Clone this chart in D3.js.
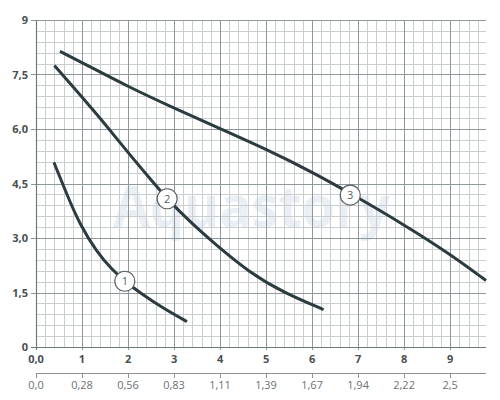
<!DOCTYPE html>
<html><head><meta charset="utf-8">
<script src="https://cdn.jsdelivr.net/npm/d3@7"></script>
<style>
html,body{margin:0;padding:0;background:#fff;}
svg{display:block;font-family:"Open Sans",sans-serif;}
</style></head>
<body><svg id="c" width="500" height="400"></svg>
<script>
// ---- data ----
const xTicks = [0,1,2,3,4,5,6,7,8,9];
const xTickLabels = ["0,0","1","2","3","4","5","6","7","8","9"];
const x2TickLabels = ["0,0","0,28","0,56","0,83","1,11","1,39","1,67","1,94","2,22","2,5"];
const yTicks = [0,1.5,3,4.5,6,7.5,9];
const yTickLabels = ["0","1,5","3,0","4,5","6,0","7,5","9"];

const curve1X = [0.39,0.67,0.96,1.32,1.65,1.93,2.26,2.77,3.28];
const curve1Y = [5.08,4.20,3.35,2.62,2.13,1.81,1.49,1.06,0.70];
const curve2X = [0.40,1.00,1.50,2.00,2.50,2.85,3.30,3.90,4.65,5.38,6.25];
const curve2Y = [7.75,6.88,6.14,5.35,4.60,4.08,3.50,2.82,2.04,1.50,1.03];
const curve3X = [0.52,1.04,2.01,2.99,4.00,5.01,6.00,7.04,7.98,9.00,9.78];
const curve3Y = [8.14,7.80,7.16,6.58,6.01,5.44,4.82,4.08,3.38,2.56,1.83];
const curveNames = ["1","2","3"];
const labelX = [1.93,2.85,6.83];
const labelY = [1.81,4.08,4.18];
const watermark = "Aquastory";

// ---- layout ----
const svg = d3.select("#c");
const x = d3.scaleLinear().domain([0,9.78]).range([36,486]);
const y = d3.scaleLinear().domain([0,9]).range([347,20]);

// watermark
svg.append("text").attr("x",113).attr("y",227)
  .attr("textLength",277).attr("lengthAdjust","spacingAndGlyphs")
  .attr("font-size",58).attr("font-weight","bold").attr("fill","#e9eff5")
  .text(watermark);

// minor grid
const minorX = d3.range(0,9.79,0.2).filter(v=>Math.abs(v-Math.round(v))>1e-6);
const minorY = d3.range(0,9.01,0.3).filter(v=>Math.abs(v/1.5-Math.round(v/1.5))>1e-6);
const g = svg.append("g");
g.selectAll(".mx").data(minorX).join("line")
  .attr("x1",d=>Math.round(x(d))+0.5).attr("x2",d=>Math.round(x(d))+0.5)
  .attr("y1",y(9)).attr("y2",y(0)).attr("stroke","#c9cecf").attr("stroke-width",1);
g.selectAll(".my").data(minorY).join("line")
  .attr("y1",d=>Math.round(y(d))+0.5).attr("y2",d=>Math.round(y(d))+0.5)
  .attr("x1",x(0)).attr("x2",x(9.78)).attr("stroke","#c9cecf").attr("stroke-width",1);
// major grid
g.selectAll(".Mx").data(xTicks.slice(1)).join("line")
  .attr("x1",d=>Math.round(x(d))+0.5).attr("x2",d=>Math.round(x(d))+0.5)
  .attr("y1",y(9)).attr("y2",y(0)+3).attr("stroke","#8e989b").attr("stroke-width",1);
g.selectAll(".My").data(yTicks.slice(1)).join("line")
  .attr("y1",d=>Math.round(y(d))+0.5).attr("y2",d=>Math.round(y(d))+0.5)
  .attr("x1",x(0)-5).attr("x2",x(9.78)).attr("stroke","#8e989b").attr("stroke-width",1);
// axis lines
g.append("line").attr("x1",x(0)+0.5).attr("x2",x(0)+0.5).attr("y1",y(9)).attr("y2",y(0)+3)
  .attr("stroke","#6f7a7d").attr("stroke-width",1.2);
g.append("line").attr("x1",x(0)-5).attr("x2",x(9.78)).attr("y1",y(0)+0.5).attr("y2",y(0)+0.5)
  .attr("stroke","#6f7a7d").attr("stroke-width",1.2);

// y labels
svg.selectAll(".yl").data(yTicks).join("text")
  .attr("x",28).attr("y",d=>y(d)+4).attr("text-anchor","end")
  .attr("font-size",11).attr("font-weight","bold").attr("fill","#4a4f52")
  .text((d,i)=>yTickLabels[i]);
// x labels
svg.selectAll(".xl").data(xTicks).join("text")
  .attr("x",d=>x(d)).attr("y",363).attr("text-anchor","middle")
  .attr("font-size",11).attr("font-weight","bold").attr("fill","#4a4f52")
  .text((d,i)=>xTickLabels[i]);

// secondary axis
const ax2 = svg.append("g");
ax2.append("line").attr("x1",x(0)).attr("x2",x(9.78)).attr("y1",373.5).attr("y2",373.5)
  .attr("stroke","#8a9193").attr("stroke-width",1.2);
ax2.selectAll(".t2").data(xTicks).join("line")
  .attr("x1",d=>Math.round(x(d))+0.5).attr("x2",d=>Math.round(x(d))+0.5)
  .attr("y1",373).attr("y2",378).attr("stroke","#8a9193");
ax2.selectAll(".l2").data(xTicks).join("text")
  .attr("x",d=>x(d)).attr("y",389).attr("text-anchor","middle")
  .attr("font-size",11).attr("fill","#6b7174")
  .text((d,i)=>x2TickLabels[i]);

// curves
const line = d3.line().x(d=>x(d[0])).y(d=>y(d[1])).curve(d3.curveBasis);
const curves = [[curve1X,curve1Y],[curve2X,curve2Y],[curve3X,curve3Y]];
curves.forEach(([cx,cy])=>{
  svg.append("path").datum(cx.map((v,i)=>[v,cy[i]]))
    .attr("d",line).attr("fill","none").attr("stroke","#2c3b40")
    .attr("stroke-width",3).attr("stroke-linecap","butt");
});

// curve labels
const lg = svg.selectAll(".lab").data(curveNames).join("g")
  .attr("transform",(d,i)=>`translate(${x(labelX[i])},${y(labelY[i])})`);
lg.append("circle").attr("r",10).attr("fill","#fff").attr("stroke","#5a6164").attr("stroke-width",1.2);
lg.append("text").attr("y",4).attr("text-anchor","middle").attr("font-size",11)
  .attr("fill","#5a6164").text(d=>d);
</script></body></html>
